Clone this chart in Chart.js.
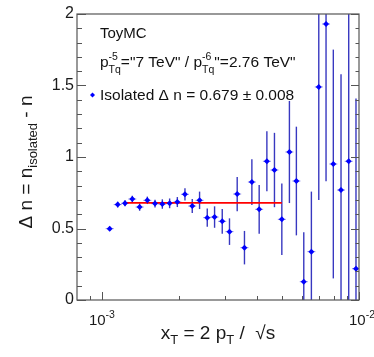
<!DOCTYPE html>
<html>
<head>
<meta charset="utf-8">
<script src="https://cdn.jsdelivr.net/npm/chart.js@4/dist/chart.umd.min.js"></script>
<style>
  html, body { margin: 0; padding: 0; background: #fff; }
  #wrap { width: 374px; height: 357px; position: relative; }
</style>
</head>
<body>
<div id="wrap"><canvas id="c"></canvas></div>
<script>
// x_T bin centres, measured values and their errors
const xVals = [1.072e-3, 1.152e-3, 1.230e-3, 1.313e-3, 1.402e-3, 1.502e-3, 1.609e-3, 1.718e-3, 1.834e-3, 1.965e-3,
               2.104e-3, 2.246e-3, 2.398e-3, 2.569e-3, 2.743e-3, 2.938e-3, 3.135e-3, 3.359e-3, 3.585e-3, 3.831e-3,
               4.090e-3, 4.382e-3, 4.690e-3, 5.010e-3, 5.362e-3, 5.707e-3, 6.098e-3, 6.528e-3, 6.975e-3, 7.444e-3,
               7.946e-3, 8.513e-3, 9.120e-3, 9.734e-3];
const yVals = [0.499, 0.667, 0.676, 0.706, 0.650, 0.697, 0.674, 0.671, 0.676, 0.685,
               0.739, 0.657, 0.697, 0.576, 0.580, 0.550, 0.478, 0.741, 0.366, 0.825,
               0.634, 0.970, 0.909, 0.564, 1.035, 0.832, 0.128, 0.338, 1.49, 1.93,
               0.951, 0.769, 0.970, 0.219];
const yErr  = [0.014, 0.020, 0.021, 0.023, 0.026, 0.026, 0.027, 0.033, 0.034, 0.035,
               0.043, 0.049, 0.061, 0.064, 0.075, 0.087, 0.093, 0.12, 0.117, 0.16,
               0.17, 0.21, 0.26, 0.25, 0.357, 0.38, 0.345, 0.42, 0.79, 1.10,
               0.80, 0.81, 1.25, 1.19];
// constant fit
const fitX = [1.223e-3, 5.01e-3];
const fitY = [0.679, 0.679];
const yTicks = [0, 0.5, 1, 1.5, 2];
const xMajor = [1e-3, 1e-2];
const xMinor = [9e-4, 2e-3, 3e-3, 4e-3, 5e-3, 6e-3, 7e-3, 8e-3, 9e-3];

const FONT = '"Liberation Sans", Arial, Helvetica, sans-serif';

// draws text pieces: {t, size, dy, stack} ; stack pieces share x with the next one
function richText(ctx, x, y, parts, measureOnly) {
    let cx = x;
    for (let i = 0; i < parts.length; i++) {
        const p = parts[i];
        ctx.font = p.size + 'px ' + FONT;
        const w = ctx.measureText(p.t).width;
        if (!measureOnly) ctx.fillText(p.t, cx, y + (p.dy || 0));
        if (p.stack) {
            const q = parts[i + 1];
            ctx.font = q.size + 'px ' + FONT;
            const w2 = ctx.measureText(q.t).width;
            if (!measureOnly) ctx.fillText(q.t, cx, y + (q.dy || 0));
            cx += Math.max(w, w2);
            i++;
        } else {
            cx += w;
        }
    }
    return cx - x;
}

const errorBars = {
    id: 'errorBars',
    beforeDatasetsDraw(chart) {
        const { ctx, chartArea: a, scales: { x, y } } = chart;
        ctx.save();
        ctx.beginPath();
        ctx.rect(a.left, a.top, a.right - a.left, a.bottom - a.top);
        ctx.clip();
        xVals.forEach((xv, i) => {
            const px = x.getPixelForValue(xv);
            const py = y.getPixelForValue(yVals[i]);
            ctx.strokeStyle = '#8c8ce6';
            ctx.lineWidth = 1;
            ctx.beginPath(); ctx.moveTo(px - 4, py); ctx.lineTo(px + 4, py); ctx.stroke();
            ctx.strokeStyle = '#3838c0';
            ctx.lineWidth = 1.4;
            ctx.beginPath();
            ctx.moveTo(px, y.getPixelForValue(yVals[i] - yErr[i]));
            ctx.lineTo(px, y.getPixelForValue(yVals[i] + yErr[i]));
            ctx.stroke();
        });
        ctx.restore();
    }
};

const frameAndText = {
    id: 'frameAndText',
    afterDraw(chart) {
        const { ctx, chartArea: a, scales: { x, y } } = chart;
        ctx.save();
        // frame
        ctx.strokeStyle = '#555';
        ctx.lineWidth = 1.2;
        ctx.strokeRect(a.left, a.top, a.right - a.left, a.bottom - a.top);
        // y ticks, both sides, inward
        ctx.lineWidth = 1;
        for (let v = 0; v <= 2.0001; v += 0.1) {
            const py = Math.round(y.getPixelForValue(v)) + 0.5;
            const major = Math.abs(v * 2 - Math.round(v * 2)) < 1e-6;
            const lenL = major ? 9 : 5, lenR = major ? 8 : 3.5;
            ctx.beginPath();
            ctx.moveTo(a.left, py); ctx.lineTo(a.left + lenL, py);
            ctx.moveTo(a.right, py); ctx.lineTo(a.right - lenR, py);
            ctx.stroke();
        }
        // x ticks, bottom, inward
        xMajor.concat(xMinor).forEach(v => {
            const px = Math.round(x.getPixelForValue(v)) + 0.5;
            const len = xMajor.includes(v) ? 8 : 4;
            ctx.beginPath(); ctx.moveTo(px, a.bottom); ctx.lineTo(px, a.bottom - len); ctx.stroke();
        });
        ctx.fillStyle = '#1a1a1a';
        ctx.textBaseline = 'alphabetic';
        ctx.textAlign = 'left';
        // x tick labels 10^-3, 10^-2
        [['10', '-3'], ['10', '-2']].forEach((lab, i) => {
            const parts = [{ t: lab[0], size: 15 }, { t: lab[1], size: 10.5, dy: -7 }];
            const w = richText(ctx, 0, 0, parts, true);
            let cx = x.getPixelForValue(xMajor[i]) - w / 2;
            if (i === 1) cx += 3;
            richText(ctx, cx, 325, parts);
        });
        // x title
        const xt = [{ t: 'x', size: 19 }, { t: 'T', size: 13, dy: 5 }, { t: ' = 2 p', size: 19 },
                    { t: 'T', size: 13, dy: 5 }, { t: ' /  √s', size: 19 }];
        const xw = richText(ctx, 0, 0, xt, true);
        richText(ctx, 218 - xw / 2, 339, xt);
        // y title, rotated
        const yt = [{ t: 'Δ n = n', size: 19 }, { t: 'isolated', size: 13, dy: 5 }, { t: ' - n', size: 19 }];
        const yw = richText(ctx, 0, 0, yt, true);
        ctx.save();
        ctx.translate(32, 162);
        ctx.rotate(-Math.PI / 2);
        richText(ctx, -yw / 2, 0, yt);
        ctx.restore();
        // legend box text
        ctx.fillStyle = '#111';
        richText(ctx, 100, 38, [{ t: 'ToyMC', size: 15 }]);
        richText(ctx, 100, 67, [
            { t: 'p', size: 15.5 },
            { t: '-5', size: 10.5, dy: -7, stack: true }, { t: 'Tq', size: 10.5, dy: 6 },
            { t: '="7 TeV" / p', size: 15.5 },
            { t: '-6', size: 10.5, dy: -7, stack: true }, { t: 'Tq', size: 10.5, dy: 6 },
            { t: '"=2.76 TeV"', size: 15.5 }
        ]);
        richText(ctx, 100, 100, [{ t: 'Isolated Δ n = 0.679 ± 0.008', size: 15.5 }]);
        // legend marker
        ctx.fillStyle = '#0000ff';
        ctx.beginPath();
        ctx.moveTo(92.5, 92.5); ctx.lineTo(95, 95); ctx.lineTo(92.5, 97.5); ctx.lineTo(90, 95);
        ctx.closePath(); ctx.fill();
        ctx.restore();
    }
};

new Chart(document.getElementById('c'), {
    type: 'scatter',
    data: {
        datasets: [
            {
                label: 'Isolated',
                data: xVals.map((v, i) => ({ x: v, y: yVals[i] })),
                pointStyle: 'rectRot',
                pointRadius: 3,
                backgroundColor: '#0000ff',
                borderColor: '#0000ff',
                borderWidth: 0
            },
            {
                label: 'fit',
                type: 'line',
                data: fitX.map((v, i) => ({ x: v, y: fitY[i] })),
                borderColor: '#ff0000',
                borderWidth: 1.6,
                pointRadius: 0,
                fill: false
            }
        ]
    },
    options: {
        responsive: true,
        maintainAspectRatio: false,
        animation: false,
        layout: { padding: { top: 14, right: 15, left: 0, bottom: 0 } },
        plugins: { legend: { display: false }, tooltip: { enabled: false } },
        scales: {
            x: {
                type: 'logarithmic',
                min: 8e-4,
                max: 1e-2,
                grid: { display: false },
                border: { display: false },
                ticks: { display: false },
                afterFit: s => { s.height = 57; }
            },
            y: {
                min: 0,
                max: 2,
                grid: { display: false, drawTicks: false },
                border: { display: false },
                afterBuildTicks: s => { s.ticks = yTicks.map(v => ({ value: v })); },
                ticks: {
                    padding: 3,
                    color: '#1a1a1a',
                    font: { family: FONT, size: 16 },
                    callback: v => String(v)
                },
                afterFit: s => { s.width = 77; }
            }
        }
    },
    plugins: [errorBars, frameAndText]
});
</script>
</body>
</html>
